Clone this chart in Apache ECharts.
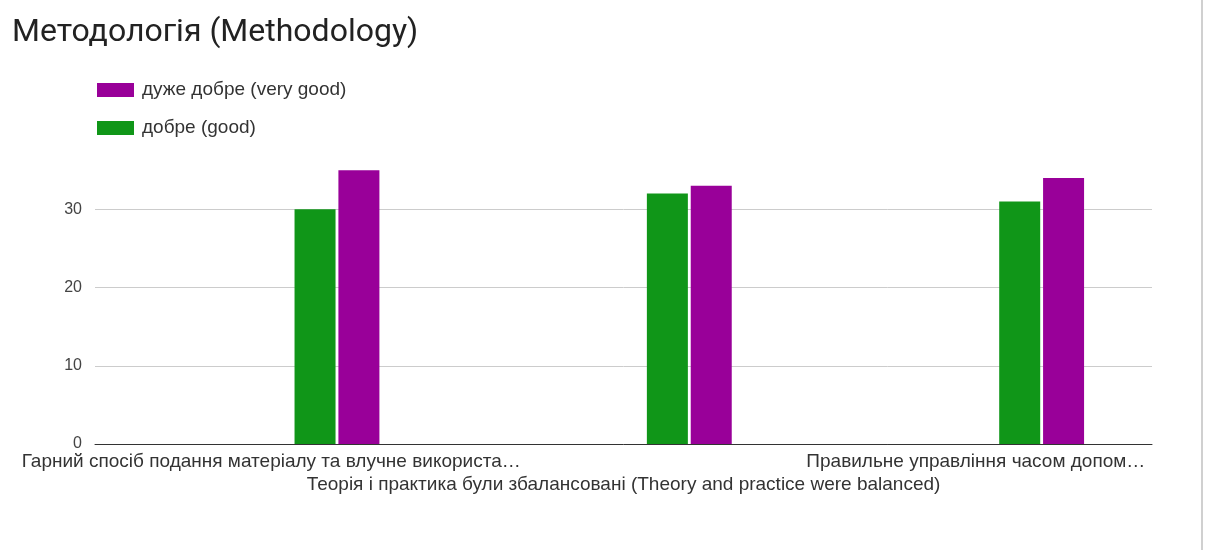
<!DOCTYPE html>
<html>
<head>
<meta charset="utf-8">
<script src="https://cdn.jsdelivr.net/npm/echarts@6/dist/echarts.min.js"></script>
<style>
  html, body { margin: 0; padding: 0; background: #fff; }
  #chart { width: 1208px; height: 550px; }
</style>
</head>
<body>
<div id="chart"></div>
<script>
const categories = [
  'Гарний спосіб подання матеріалу та влучне використа…',
  'Теорія і практика були збалансовані (Theory and practice were balanced)',
  'Правильне управління часом допом…',
]
// Google Forms keeps empty answer options as zero-height bars,
// which is why the two visible bars sit right of each band centre
const emptyOption = [0, 0, 0]
const good = [30, 32, 31]
const veryGood = [35, 33, 34]
const yTicks = [0, 10, 20, 30]

const chart = echarts.init(document.getElementById('chart'))

const placeholder = {
  type: 'bar',
  barWidth: 41,
  barGap: '7%',
  silent: true,
  data: emptyOption,
}

chart.setOption({
  backgroundColor: '#fff',
  animation: false,
  textStyle: { fontFamily: 'Liberation Sans, Arial, sans-serif' },
  title: {
    text: 'Методологія (Methodology)',
    left: 7,
    top: 12,
    textStyle: {
      fontFamily: 'Roboto, sans-serif',
      fontWeight: 'normal',
      fontSize: 32,
      color: '#222',
    },
  },
  legend: {
    orient: 'vertical',
    left: 92,
    top: 75,
    itemWidth: 37,
    itemHeight: 14,
    itemGap: 18,
    icon: 'rect',
    data: ['дуже добре (very good)', 'добре (good)'],
    textStyle: {
      fontFamily: 'Liberation Sans, Arial, sans-serif',
      fontSize: 19,
      lineHeight: 20,
      color: '#333',
      padding: [0, 0, 0, 3],
    },
  },
  grid: {
    left: 95,
    right: 56,
    top: 131,
    bottom: 106,
    containLabel: false,
  },
  xAxis: {
    type: 'category',
    data: categories,
    axisLine: { lineStyle: { color: '#333', width: 1 } },
    axisTick: { show: false },
    axisLabel: {
      interval: 0,
      fontSize: 19,
      color: '#333',
      margin: 6,
      lineHeight: 23,
      formatter: (v, i) => (i % 2 ? '\n' + v : v),
    },
  },
  yAxis: {
    type: 'value',
    min: yTicks[0],
    max: 40,
    interval: yTicks[1] - yTicks[0],
    axisLine: { show: false },
    axisTick: { show: false },
    axisLabel: {
      fontSize: 16,
      color: '#444',
      margin: 13,
      showMaxLabel: false,
      formatter: (v) => (yTicks.includes(v) ? String(v) : ''),
    },
    splitLine: {
      showMaxLine: false,
      lineStyle: { color: '#ccc' },
    },
  },
  series: [
    { ...placeholder },
    { ...placeholder },
    { ...placeholder },
    {
      name: 'добре (good)',
      type: 'bar',
      barWidth: 41,
      barGap: '7%',
      itemStyle: { color: '#109618' },
      data: good,
    },
    {
      name: 'дуже добре (very good)',
      type: 'bar',
      barWidth: 41,
      barGap: '7%',
      itemStyle: { color: '#990099' },
      data: veryGood,
    },
  ],
  graphic: [
    {
      type: 'rect',
      shape: { x: 1201, y: 0, width: 2, height: 550 },
      style: { fill: '#d0d0d0' },
      silent: true,
    },
  ],
})
</script>
</body>
</html>
